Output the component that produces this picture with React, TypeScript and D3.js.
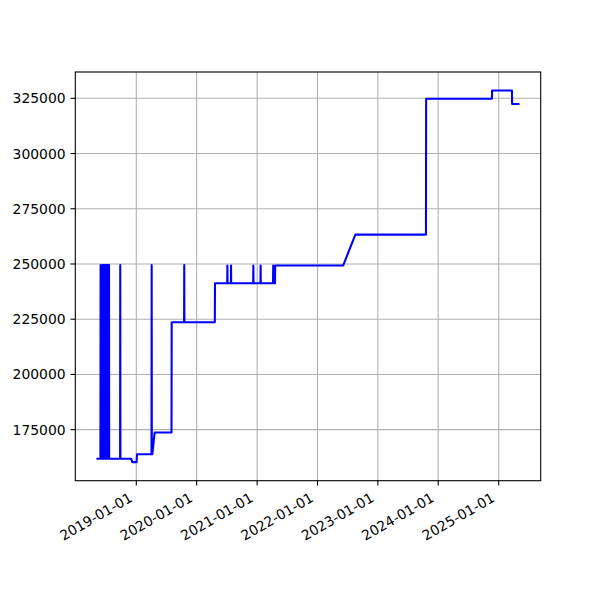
import React from "react";
import * as d3 from "d3";

const dates: string[] = [
  "2018-05-05","2018-05-29","2018-05-30","2018-05-31",
  "2018-06-09","2018-06-10","2018-06-11","2018-06-14","2018-06-15","2018-06-16",
  "2018-06-19","2018-06-20","2018-06-21","2018-06-24","2018-06-25","2018-06-26",
  "2018-06-29","2018-06-30","2018-07-01","2018-07-04","2018-07-05","2018-07-06",
  "2018-07-09","2018-07-10","2018-07-11","2018-07-14","2018-07-15","2018-07-16",
  "2018-07-19","2018-07-20","2018-07-21",
  "2018-09-25","2018-09-26","2018-09-27",
  "2018-12-01","2018-12-08","2019-01-03","2019-01-05","2019-04-03","2019-04-04","2019-04-05",
  "2019-04-08","2019-04-22","2019-08-02","2019-08-03","2019-10-17","2019-10-18","2019-10-19",
  "2020-04-20","2020-04-21","2020-07-04","2020-07-05","2020-07-06","2020-07-26","2020-07-27",
  "2020-07-28","2020-12-08","2020-12-09","2020-12-10","2021-01-21","2021-01-22","2021-01-23",
  "2021-04-07","2021-04-08","2021-04-09","2021-04-19","2021-04-20","2022-06-05","2022-08-18",
  "2023-10-19","2023-10-20","2024-11-21","2024-11-22","2025-03-22","2025-03-23","2025-05-07",
];

const prices: number[] = [
  161800,161800,249500,161800,
  161800,249500,161800,161800,249500,161800,
  161800,249500,161800,161800,249500,161800,
  161800,249500,161800,161800,249500,161800,
  161800,249500,161800,161800,249500,161800,
  161800,249500,161800,
  161800,249500,161800,
  161800,160300,160300,163900,163900,249500,163900,
  163900,173700,173700,223600,223600,249500,223600,
  223600,241300,241300,249300,241300,241300,249300,
  241300,241300,249300,241300,241300,249300,241300,
  241300,249300,241300,241300,249300,249300,263300,
  263300,324800,324800,328500,328500,322400,322400,
];

const yTicks: number[] = [175000, 200000, 225000, 250000, 275000, 300000, 325000];
const xTickLabels: string[] = [
  "2019-01-01","2020-01-01","2021-01-01","2022-01-01","2023-01-01","2024-01-01","2025-01-01",
];

const W = 600, H = 600;
const L = 75.3, R = 540.7, T = 72, B = 480.7;
const FONT = "'DejaVu Sans', sans-serif";
const FS = 13.9;

export default function App() {
  const parse = d3.utcParse("%Y-%m-%d");
  const data = dates.map((d, i) => ({ t: parse(d)!, v: prices[i] }));
  const tExt = d3.extent(data, (d) => d.t.getTime()) as [number, number];
  const tPad = (tExt[1] - tExt[0]) * 0.05;
  const vExt = d3.extent(data, (d) => d.v) as [number, number];
  const vPad = (vExt[1] - vExt[0]) * 0.05;
  const x = d3.scaleUtc().domain([new Date(tExt[0] - tPad), new Date(tExt[1] + tPad)]).range([L, R]);
  const y = d3.scaleLinear().domain([vExt[0] - vPad, vExt[1] + vPad]).range([B, T]);
  const line = d3.line<{ t: Date; v: number }>().x((d) => x(d.t)).y((d) => y(d.v));
  const xTicks = xTickLabels.map((s) => ({ s, t: parse(s)! }));
  const tickLen = 4.86, pad = 4.86;

  return (
    <svg width={W} height={H} style={{ position: "absolute", left: 0, top: 0, background: "#fff" }}>
      <rect x={0} y={0} width={W} height={H} fill="#fff" />
      {xTicks.map((d) => (
        <line key={"gx" + d.s} x1={x(d.t)} x2={x(d.t)} y1={T} y2={B} stroke="#b0b0b0" strokeWidth={1.1} />
      ))}
      {yTicks.map((v) => (
        <line key={"gy" + v} x1={L} x2={R} y1={y(v)} y2={y(v)} stroke="#b0b0b0" strokeWidth={1.1} />
      ))}
      <clipPath id="clip">
        <rect x={L} y={T} width={R - L} height={B - T} />
      </clipPath>
      <path d={line(data) || ""} fill="none" stroke="#0000ff" strokeWidth={2.08} strokeLinejoin="round" clipPath="url(#clip)" />
      <rect x={L} y={T} width={R - L} height={B - T} fill="none" stroke="#000" strokeWidth={1.1} />
      {yTicks.map((v) => (
        <g key={"ty" + v}>
          <line x1={L - tickLen} x2={L} y1={y(v)} y2={y(v)} stroke="#000" strokeWidth={1.1} />
          <text x={L - tickLen - pad} y={y(v)} dy="0.36em" textAnchor="end" fontFamily={FONT} fontSize={FS} fill="#000">
            {v}
          </text>
        </g>
      ))}
      {xTicks.map((d) => (
        <g key={"tx" + d.s}>
          <line x1={x(d.t)} x2={x(d.t)} y1={B} y2={B + tickLen} stroke="#000" strokeWidth={1.1} />
          <text
            transform={`translate(${x(d.t) - 3},${B + tickLen + pad + 10.2}) rotate(-30)`}
            textAnchor="end"
            fontFamily={FONT}
            fontSize={FS}
            fill="#000"
          >
            {d.s}
          </text>
        </g>
      ))}
    </svg>
  );
}
